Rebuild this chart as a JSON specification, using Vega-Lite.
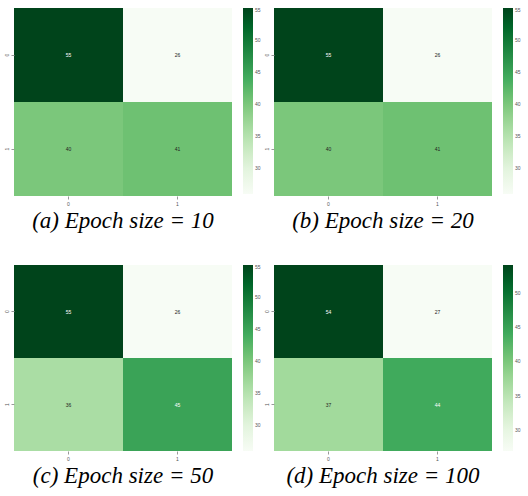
{
  "$schema": "https://vega.github.io/schema/vega-lite/v6.json",
  "padding": {"left": 4, "top": 8, "right": 0, "bottom": 0},
  "background": "white",
  "data": {"values": [
    {"panel": "a", "actual": "0", "pred": "0", "v": 55},
    {"panel": "a", "actual": "0", "pred": "1", "v": 26},
    {"panel": "a", "actual": "1", "pred": "0", "v": 40},
    {"panel": "a", "actual": "1", "pred": "1", "v": 41},
    {"panel": "b", "actual": "0", "pred": "0", "v": 55},
    {"panel": "b", "actual": "0", "pred": "1", "v": 26},
    {"panel": "b", "actual": "1", "pred": "0", "v": 40},
    {"panel": "b", "actual": "1", "pred": "1", "v": 41},
    {"panel": "c", "actual": "0", "pred": "0", "v": 55},
    {"panel": "c", "actual": "0", "pred": "1", "v": 26},
    {"panel": "c", "actual": "1", "pred": "0", "v": 36},
    {"panel": "c", "actual": "1", "pred": "1", "v": 45},
    {"panel": "d", "actual": "0", "pred": "0", "v": 54},
    {"panel": "d", "actual": "0", "pred": "1", "v": 27},
    {"panel": "d", "actual": "1", "pred": "0", "v": 37},
    {"panel": "d", "actual": "1", "pred": "1", "v": 44}
  ]},
  "vconcat": [
    {
      "hconcat": [
        {
          "width": 218, "height": 188,
          "title": {"text": "(a) Epoch size = 10"},
          "transform": [{"filter": "datum.panel == 'a'"}],
          "encoding": {
            "x": {"field": "pred", "type": "ordinal"},
            "y": {"field": "actual", "type": "ordinal"}
          },
          "layer": [
            {"mark": "rect", "encoding": {"color": {"field": "v", "type": "quantitative", "scale": {"domain": [26, 29.625, 33.25, 36.875, 40.5, 44.125, 47.75, 51.375, 55], "range": ["#f7fcf5", "#e5f5e0", "#c7e9c0", "#a1d99b", "#74c476", "#41ab5d", "#238b45", "#006d2c", "#00441b"], "nice": false}, "legend": {"values": [30, 35, 40, 45, 50, 55]}}}},
            {"mark": {"type": "text", "fontSize": 5}, "encoding": {"text": {"field": "v", "type": "quantitative"}, "color": {"condition": {"test": "datum.v >= 44", "value": "white"}, "value": "#222"}}}
          ]
        },
        {
          "width": 218, "height": 188,
          "title": {"text": "(b) Epoch size = 20"},
          "transform": [{"filter": "datum.panel == 'b'"}],
          "encoding": {
            "x": {"field": "pred", "type": "ordinal"},
            "y": {"field": "actual", "type": "ordinal"}
          },
          "layer": [
            {"mark": "rect", "encoding": {"color": {"field": "v", "type": "quantitative", "scale": {"domain": [26, 29.625, 33.25, 36.875, 40.5, 44.125, 47.75, 51.375, 55], "range": ["#f7fcf5", "#e5f5e0", "#c7e9c0", "#a1d99b", "#74c476", "#41ab5d", "#238b45", "#006d2c", "#00441b"], "nice": false}, "legend": {"values": [30, 35, 40, 45, 50, 55]}}}},
            {"mark": {"type": "text", "fontSize": 5}, "encoding": {"text": {"field": "v", "type": "quantitative"}, "color": {"condition": {"test": "datum.v >= 44", "value": "white"}, "value": "#222"}}}
          ]
        }
      ],
      "resolve": {"scale": {"color": "independent"}, "legend": {"color": "independent"}}
    },
    {
      "hconcat": [
        {
          "width": 218, "height": 186,
          "title": {"text": "(c) Epoch size = 50"},
          "transform": [{"filter": "datum.panel == 'c'"}],
          "encoding": {
            "x": {"field": "pred", "type": "ordinal"},
            "y": {"field": "actual", "type": "ordinal"}
          },
          "layer": [
            {"mark": "rect", "encoding": {"color": {"field": "v", "type": "quantitative", "scale": {"domain": [26, 29.625, 33.25, 36.875, 40.5, 44.125, 47.75, 51.375, 55], "range": ["#f7fcf5", "#e5f5e0", "#c7e9c0", "#a1d99b", "#74c476", "#41ab5d", "#238b45", "#006d2c", "#00441b"], "nice": false}, "legend": {"values": [30, 35, 40, 45, 50, 55]}}}},
            {"mark": {"type": "text", "fontSize": 5}, "encoding": {"text": {"field": "v", "type": "quantitative"}, "color": {"condition": {"test": "datum.v >= 44", "value": "white"}, "value": "#222"}}}
          ]
        },
        {
          "width": 218, "height": 186,
          "title": {"text": "(d) Epoch size = 100"},
          "transform": [{"filter": "datum.panel == 'd'"}],
          "encoding": {
            "x": {"field": "pred", "type": "ordinal"},
            "y": {"field": "actual", "type": "ordinal"}
          },
          "layer": [
            {"mark": "rect", "encoding": {"color": {"field": "v", "type": "quantitative", "scale": {"domain": [27, 30.375, 33.75, 37.125, 40.5, 43.875, 47.25, 50.625, 54], "range": ["#f7fcf5", "#e5f5e0", "#c7e9c0", "#a1d99b", "#74c476", "#41ab5d", "#238b45", "#006d2c", "#00441b"], "nice": false}, "legend": {"values": [30, 35, 40, 45, 50]}}}},
            {"mark": {"type": "text", "fontSize": 5}, "encoding": {"text": {"field": "v", "type": "quantitative"}, "color": {"condition": {"test": "datum.v >= 44", "value": "white"}, "value": "#222"}}}
          ]
        }
      ],
      "resolve": {"scale": {"color": "independent"}, "legend": {"color": "independent"}}
    }
  ],
  "spacing": 32,
  "config": {
    "concat": {"spacing": 3},
    "view": {"stroke": null},
    "axis": {"title": null, "domain": false, "labelFontSize": 5, "labelColor": "#555", "tickSize": 3, "tickColor": "#999", "labelAngle": -90, "labelPadding": 2},
    "axisX": {"labelAngle": 0},
    "legend": {"title": null, "gradientLength": 186, "gradientThickness": 10, "labelFontSize": 5, "labelColor": "#555", "offset": 11, "padding": 0, "labelOffset": 2, "gradientStrokeWidth": 0},
    "title": {"orient": "bottom", "frame": "group", "anchor": "middle", "font": "Liberation Serif", "fontStyle": "italic", "fontWeight": "normal", "fontSize": 23, "color": "#000", "offset": 4}
  }
}
